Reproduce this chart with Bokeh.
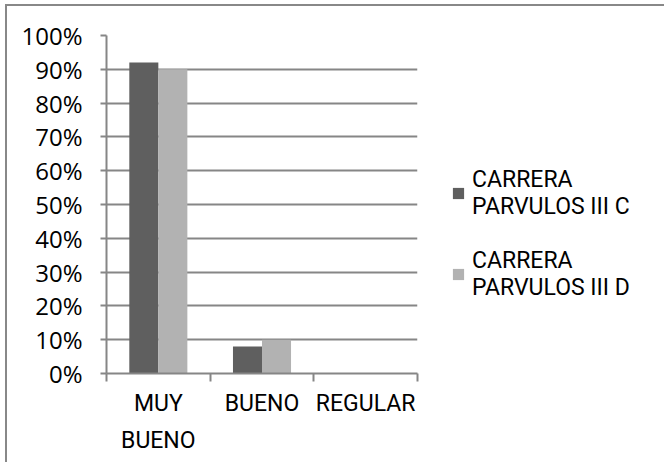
from bokeh.plotting import figure
from bokeh.models import (Range1d, FixedTicker, NumeralTickFormatter, Legend, LegendItem,
                          ColumnDataSource)
from bokeh.transform import dodge
from bokeh.embed import file_html
from bokeh.resources import INLINE

categories = ["MUY BUENO", "BUENO", "REGULAR"]
category_labels = ["MUY\nBUENO", "BUENO", "REGULAR"]
series_names = ["CARRERA\nPARVULOS III C", "CARRERA\nPARVULOS III D"]
values_c = [0.92, 0.08, 0.0]
values_d = [0.90, 0.10, 0.0]
y_ticks = [0.0, 0.1, 0.2, 0.3, 0.4, 0.5, 0.6, 0.7, 0.8, 0.9, 1.0]

colors = ["#5f5f5f", "#b2b2b2"]
grid_color = "#868686"

xpos = [i + 0.5 for i in range(len(categories))]
src = ColumnDataSource(dict(x=xpos, c=values_c, d=values_d))

p = figure(frame_width=311, frame_height=338, output_backend="svg", toolbar_location=None,
           x_range=Range1d(0, len(categories)), y_range=Range1d(0, 1),
           min_border_left=99, min_border_right=0, min_border_top=29, min_border_bottom=89)
p.styles = {"margin-left": "5px", "margin-top": "4px",
            "border-left": "2px solid #888888", "border-top": "2px solid #888888"}
p.outline_line_color = None
p.background_fill_color = "white"
p.border_fill_color = "white"

r1 = p.vbar(x=dodge("x", -0.14, range=p.x_range), top="c", width=0.28, source=src,
            fill_color=colors[0], line_color=None)
r2 = p.vbar(x=dodge("x", 0.14, range=p.x_range), top="d", width=0.28, source=src,
            fill_color=colors[1], line_color=None)

# y axis
p.yaxis.ticker = FixedTicker(ticks=y_ticks)
p.yaxis.formatter = NumeralTickFormatter(format="0%")
p.yaxis.axis_line_color = grid_color
p.yaxis.axis_line_width = 2
p.yaxis.major_tick_line_color = grid_color
p.yaxis.major_tick_line_width = 2
p.yaxis.major_tick_out = 6
p.yaxis.major_tick_in = 0
p.yaxis.minor_tick_line_color = None
p.yaxis.major_label_standoff = 18
p.yaxis.major_label_text_font = "Open Sans"
p.yaxis.major_label_text_font_size = "24px"
p.yaxis.major_label_text_color = "black"

p.ygrid.ticker = FixedTicker(ticks=y_ticks)
p.ygrid.grid_line_color = grid_color
p.ygrid.grid_line_width = 2
p.xgrid.grid_line_color = None

# x axis
p.xaxis.ticker = FixedTicker(ticks=xpos, minor_ticks=list(range(len(categories) + 1)))
p.xaxis.major_label_overrides = {x: lab for x, lab in zip(xpos, category_labels)}
p.xaxis.axis_line_color = grid_color
p.xaxis.axis_line_width = 2
p.xaxis.major_tick_line_color = None
p.xaxis.major_tick_out = 0
p.xaxis.major_tick_in = 0
p.xaxis.minor_tick_line_color = grid_color
p.xaxis.minor_tick_line_width = 2
p.xaxis.minor_tick_out = 8
p.xaxis.minor_tick_in = 0
p.xaxis.major_label_standoff = 8
p.xaxis.major_label_text_font = "Roboto"
p.xaxis.major_label_text_font_size = "23px"
p.xaxis.major_label_text_color = "black"
p.xaxis.major_label_text_line_height = 1.4

legend = Legend(items=[LegendItem(label=series_names[0], renderers=[r1]),
                       LegendItem(label=series_names[1], renderers=[r2])],
                location="top_left")
legend.border_line_color = None
legend.background_fill_alpha = 0
legend.label_text_font = "Roboto"
legend.label_text_font_size = "23px"
legend.label_text_color = "black"
legend.label_text_line_height = 1.43
legend.glyph_width = 14
legend.glyph_height = 14
legend.label_standoff = 7
legend.spacing = 27
legend.padding = 0
legend.margin = 34
legend.title = " "
legend.title_text_font_size = "10px"
legend.title_standoff = 86
p.add_layout(legend, "right")

open("out.html", "w").write(file_html(p, INLINE))
